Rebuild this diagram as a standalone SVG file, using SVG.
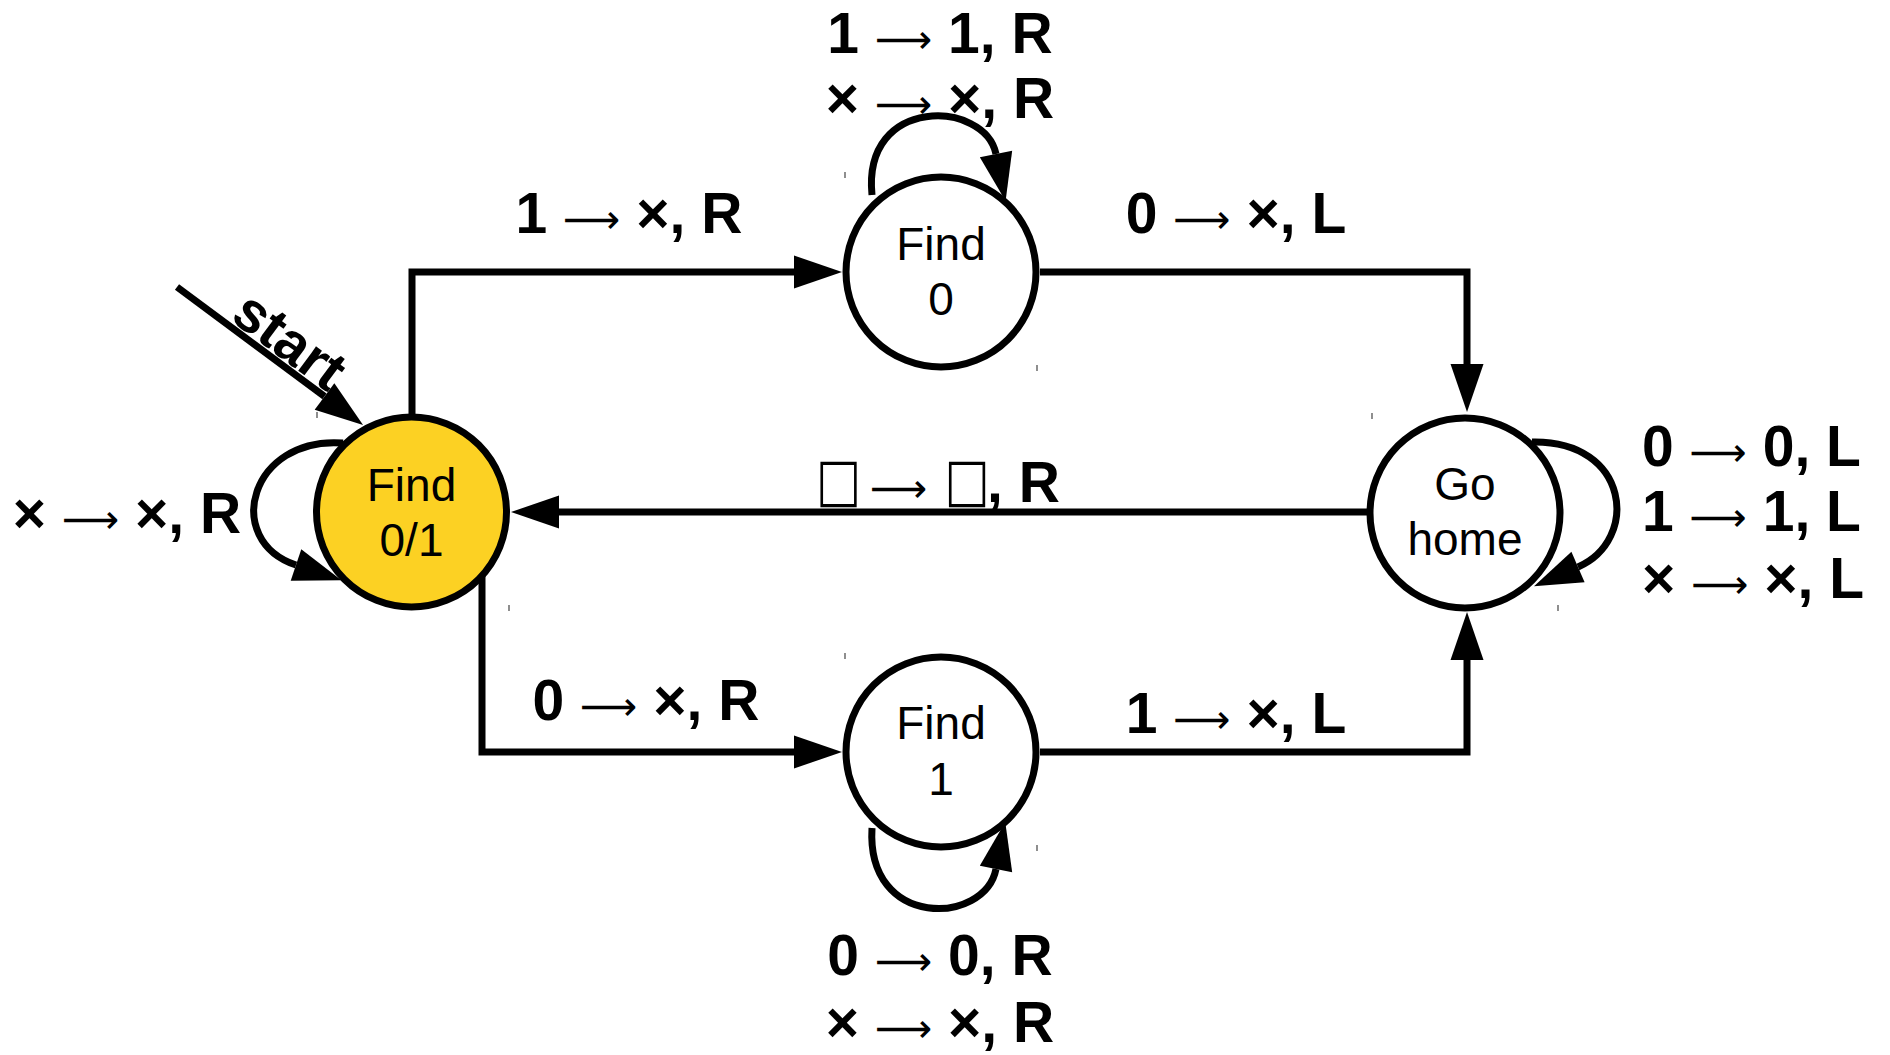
<svg xmlns="http://www.w3.org/2000/svg" width="1890" height="1055" viewBox="0 0 1890 1055">
<style>
.node{stroke:#000;stroke-width:7;fill:#fff}
.start-node{fill:#FCD123}
.ntxt{font-family:"Liberation Sans",Arial,sans-serif;font-size:46px;text-anchor:middle;fill:#000}
.lbl{font-family:"Liberation Sans",Arial,sans-serif;font-size:57px;font-weight:bold;fill:#000}
.c{text-anchor:middle}
.arr{font-family:"DejaVu Sans",sans-serif;font-size:40px;font-weight:normal}
.box{font-family:"DejaVu Sans",sans-serif;font-size:50px;font-weight:bold;text-anchor:middle;fill:#000}
.edge{fill:none;stroke:#000;stroke-width:7;marker-end:url(#ah)}
.tick{stroke:#444;stroke-width:1.2}
</style>
<defs>
<marker id="ah" markerUnits="userSpaceOnUse" markerWidth="50" markerHeight="36" refX="0" refY="16.5" orient="auto" overflow="visible">
<path d="M0,0 L48,16.5 L0,33 Z" fill="#000"/>
</marker>
</defs>
<rect width="1890" height="1055" fill="#fff"/>
<g id="connectors">
<path class="edge" d="M177,287 L324.5,396.4"/>
<path class="edge" d="M412,418 V272 H794"/>
<path class="edge" d="M1040,272 H1467 V364"/>
<path class="edge" d="M1368,512 H559"/>
<path class="edge" d="M482,575 V752 H794"/>
<path class="edge" d="M1040,752 H1467 V660"/>
<path class="edge" d="M343,443 C250,436 222,540 296,565"/>
<path class="edge" d="M872,195 C862,95 985,100 996,154"/>
<path class="edge" d="M872,828 C866,930 985,925 996,869"/>
<path class="edge" d="M1532,442 C1630,440 1640,540 1578,567"/>
<text class="lbl" font-size="46" text-anchor="middle" transform="translate(278.5,356) rotate(36.6)">start</text>
</g>
<g id="node-find01">
<circle class="node start-node" cx="411.5" cy="512" r="95"/>
<text class="ntxt" x="411.5" y="501">Find</text>
<text class="ntxt" x="411.5" y="556">0/1</text>
</g>
<g id="node-find0">
<circle class="node" cx="941" cy="272" r="95"/>
<text class="ntxt" x="941" y="260">Find</text>
<text class="ntxt" x="941" y="315">0</text>
</g>
<g id="node-find1">
<circle class="node" cx="941" cy="752" r="95"/>
<text class="ntxt" x="941" y="739">Find</text>
<text class="ntxt" x="941" y="795">1</text>
</g>
<g id="node-gohome">
<circle class="node" cx="1465" cy="513" r="95"/>
<text class="ntxt" x="1465" y="500">Go</text>
<text class="ntxt" x="1465" y="555">home</text>
</g>
<g id="labels">
<text class="lbl c" x="940" y="53">1 <tspan class="arr">⟶</tspan> 1, R</text>
<text class="lbl c" x="940" y="118">× <tspan class="arr">⟶</tspan> ×, R</text>
<text class="lbl c" x="629" y="233">1 <tspan class="arr">⟶</tspan> ×, R</text>
<text class="lbl c" x="1236" y="233">0 <tspan class="arr">⟶</tspan> ×, L</text>
<text class="box" transform="translate(838.5,500) scale(0.95,1.2)">□</text>
<text class="lbl" x="870" y="502"><tspan class="arr">⟶</tspan></text>
<text class="box" transform="translate(967,500) scale(0.95,1.2)">□</text>
<text class="lbl" x="987" y="502">, R</text>
<text class="lbl c" x="127" y="533">× <tspan class="arr">⟶</tspan> ×, R</text>
<text class="lbl c" x="646" y="720">0 <tspan class="arr">⟶</tspan> ×, R</text>
<text class="lbl c" x="1236" y="733">1 <tspan class="arr">⟶</tspan> ×, L</text>
<text class="lbl c" x="940" y="975">0 <tspan class="arr">⟶</tspan> 0, R</text>
<text class="lbl c" x="940" y="1042">× <tspan class="arr">⟶</tspan> ×, R</text>
<text class="lbl" x="1642" y="466">0 <tspan class="arr">⟶</tspan> 0, L</text>
<text class="lbl" x="1642" y="531">1 <tspan class="arr">⟶</tspan> 1, L</text>
<text class="lbl" x="1642" y="598">× <tspan class="arr">⟶</tspan> ×, L</text>
</g>
<g id="ticks">
<line class="tick" x1="317" y1="412" x2="317" y2="418"/>
<line class="tick" x1="509" y1="605" x2="509" y2="611"/>
<line class="tick" x1="845" y1="172" x2="845" y2="178"/>
<line class="tick" x1="1037" y1="365" x2="1037" y2="371"/>
<line class="tick" x1="1372" y1="413" x2="1372" y2="419"/>
<line class="tick" x1="1558" y1="605" x2="1558" y2="611"/>
<line class="tick" x1="845" y1="653" x2="845" y2="659"/>
<line class="tick" x1="1037" y1="845" x2="1037" y2="851"/>
</g>
</svg>
